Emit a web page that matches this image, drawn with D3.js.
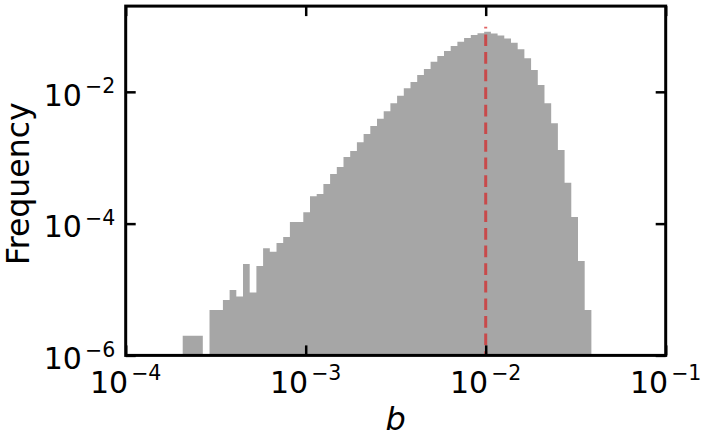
<!DOCTYPE html>
<html><head><meta charset="utf-8">
<script src="https://cdn.jsdelivr.net/npm/d3@7"></script>
<style>body{margin:0;background:#fff} svg{display:block}</style>
</head><body><svg id="c" width="705" height="443"></svg>
<script>
// ---- data ----
const binLogMin = -3.6833;      // log10 of first bin's left edge
const binLogWidth = 0.03722;    // log10 width of every bin
const frequencies = [
  1.98e-6, 1.98e-6, 1.98e-6, 0, 4.90e-6, 4.90e-6, 6.95e-6, 9.84e-6, 7.80e-6, 2.44e-5,
  8.97e-6, 2.28e-5, 4.23e-5, 3.75e-5, 5.08e-5, 6.27e-5, 1.06e-4, 1.06e-4, 1.49e-4, 2.60e-4,
  2.82e-4, 3.99e-4, 5.66e-4, 7.23e-4, 1.03e-3, 1.26e-3, 1.71e-3, 2.29e-3, 3.03e-3, 3.89e-3,
  5.06e-3, 6.73e-3, 8.73e-3, 1.13e-2, 1.41e-2, 1.80e-2, 2.23e-2, 2.85e-2, 3.49e-2, 4.16e-2,
  4.94e-2, 5.73e-2, 6.55e-2, 7.26e-2, 7.74e-2, 8.13e-2, 7.71e-2, 7.19e-2, 6.47e-2, 5.55e-2,
  4.41e-2, 3.22e-2, 2.14e-2, 1.27e-2, 6.68e-3, 3.33e-3, 1.31e-3, 4.18e-4, 1.26e-4, 2.71e-5,
  4.90e-6
];
const xTicks = [1e-4, 1e-3, 1e-2, 1e-1];
const xTickExp = ["\u22124", "\u22123", "\u22122", "\u22121"];
const yTicks = [1e-6, 1e-4, 1e-2];
const yTickExp = ["\u22126", "\u22124", "\u22122"];
const xDomain = [1e-4, 1e-1];
const yDomain = [1e-6, 0.2];
const refLineX = 0.01;
const refLineTop = 0.0976;
const xLabel = "b";
const yLabel = "Frequency";

// ---- layout ----
const L = 125.7, R = 665.7, T = 6.1, B = 355.4;
const svg = d3.select("#c");
const x = d3.scaleLog().domain(xDomain).range([L, R]);
const y = d3.scaleLog().domain(yDomain).range([B, T]);
const font = "DejaVu Sans, sans-serif";

svg.append("defs").append("clipPath").attr("id", "clip")
  .append("rect").attr("x", L).attr("y", T).attr("width", R - L).attr("height", B - T);

// bins
const edges = d3.range(frequencies.length + 1).map(i => Math.pow(10, binLogMin + i * binLogWidth));
const p = d3.path();
frequencies.forEach((f, i) => {
  if (f <= 0) return;
  const x0 = x(edges[i]), x1 = x(edges[i + 1]), yt = y(f);
  p.rect(x0, yt, x1 - x0, B + 5 - yt);
});
svg.append("path").attr("d", p.toString()).attr("fill", "#a6a6a6")
  .attr("clip-path", "url(#clip)");

// reference line
svg.append("line")
  .attr("x1", x(refLineX)).attr("x2", x(refLineX))
  .attr("y1", y(yDomain[0])).attr("y2", y(refLineTop))
  .attr("stroke", "#d62728").attr("stroke-opacity", 0.72)
  .attr("stroke-width", 3)
  .attr("stroke-dasharray", "11.7,5.9").attr("stroke-dashoffset", 7.5);

// axes with inward ticks
const tk = 10;
function styleAxis(g) {
  g.select(".domain").remove();
  g.selectAll(".tick line").attr("stroke", "#000").attr("stroke-width", 2.5);
  g.selectAll(".tick text").remove();
}
svg.append("g").attr("transform", `translate(0,${B})`)
  .call(d3.axisBottom(x).tickValues(xTicks).tickSizeInner(-tk).tickSizeOuter(0)).call(styleAxis);
svg.append("g").attr("transform", `translate(0,${T})`)
  .call(d3.axisTop(x).tickValues(xTicks).tickSizeInner(-tk).tickSizeOuter(0)).call(styleAxis);
svg.append("g").attr("transform", `translate(${L},0)`)
  .call(d3.axisLeft(y).tickValues(yTicks).tickSizeInner(-tk).tickSizeOuter(0)).call(styleAxis);
svg.append("g").attr("transform", `translate(${R},0)`)
  .call(d3.axisRight(y).tickValues(yTicks).tickSizeInner(-tk).tickSizeOuter(0)).call(styleAxis);

// spines
svg.append("rect").attr("x", L).attr("y", T).attr("width", R - L).attr("height", B - T)
  .attr("fill", "none").attr("stroke", "#000").attr("stroke-width", 3);

// tick labels
const base = 30, sup = 20.5, supDy = -12.7;
xTicks.forEach((v, i) => {
  const t = svg.append("text").attr("x", x(v)).attr("y", B + 37.3)
    .attr("text-anchor", "middle").attr("font-family", font).attr("font-size", base).attr("fill", "#000");
  t.append("tspan").text("10");
  t.append("tspan").attr("dx", 3).attr("dy", supDy).attr("font-size", sup).text(xTickExp[i]);
});
yTicks.forEach((v, i) => {
  const t = svg.append("text").attr("x", L - 10.5).attr("y", y(v) + 13.8)
    .attr("text-anchor", "end").attr("font-family", font).attr("font-size", base).attr("fill", "#000");
  t.append("tspan").text("10");
  t.append("tspan").attr("dx", 3).attr("dy", supDy).attr("font-size", sup).text(yTickExp[i]);
});

// axis labels
svg.append("text").attr("x", (L + R) / 2).attr("y", 430)
  .attr("text-anchor", "middle").attr("font-family", font).attr("font-style", "italic")
  .attr("font-size", 32).attr("fill", "#000").text(xLabel);
svg.append("text").attr("transform", `translate(29.3,${(T + B) / 2 + 3}) rotate(-90)`)
  .attr("text-anchor", "middle").attr("font-family", font)
  .attr("font-size", 31.5).attr("fill", "#000").text(yLabel);
</script></body></html>
